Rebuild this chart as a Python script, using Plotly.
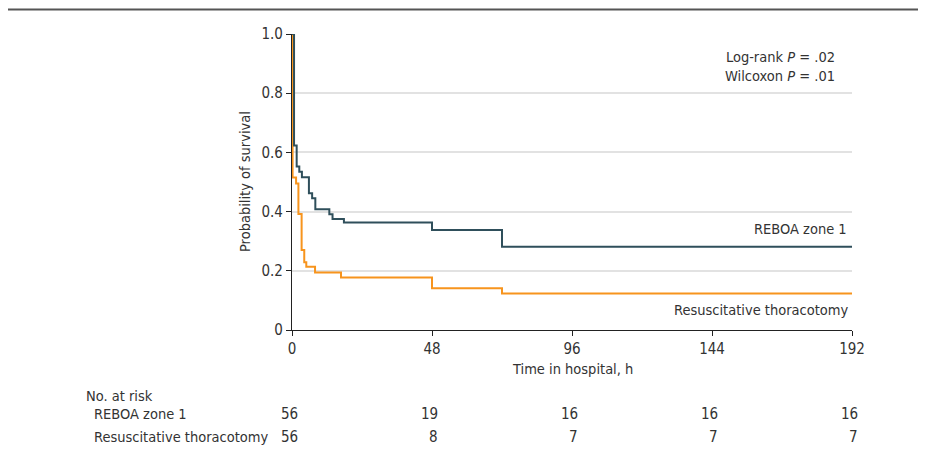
import plotly.graph_objects as go

# Data
reboa_time = [0, 0.7, 1.6, 2.5, 3.4, 5.8, 6.9, 8.0, 12.8, 13.9, 17.8, 48, 72, 192]
reboa_surv = [1.0, 0.623, 0.552, 0.535, 0.516, 0.462, 0.445, 0.408, 0.391, 0.375, 0.363, 0.338, 0.281, 0.281]
rt_time = [0, 0.2, 1.4, 2.2, 3.3, 4.2, 4.9, 7.9, 16.8, 48, 72, 192]
rt_surv = [1.0, 0.515, 0.495, 0.392, 0.270, 0.229, 0.214, 0.194, 0.177, 0.141, 0.123, 0.123]

x_ticks = [0, 48, 96, 144, 192]
y_ticks = [0, 0.2, 0.4, 0.6, 0.8, 1.0]
y_ticktext = ["0", "0.2", "0.4", "0.6", "0.8", "1.0"]
risk_groups = ["REBOA zone 1", "Resuscitative thoracotomy"]
risk_reboa = [56, 19, 16, 16, 16]
risk_rt = [56, 8, 7, 7, 7]

TEAL = "#2f4f5b"
ORANGE = "#f7941d"
TXT = "#333333"
FONT = "DejaVu Sans Condensed, Roboto, sans-serif"
FS = 14.5

# page body has an 8px margin; plot area in window px: x 292..852, y 34..330
OFF = 8
L, R, T, B = 292, 852, 34, 330
W, H = 926 - OFF, 462 - OFF

def px(x):
    return (x - L) / (R - L)

def py(y):
    return (B - y) / (B - T)

fig = go.Figure()
fig.add_trace(go.Scatter(x=rt_time, y=rt_surv, mode="lines", line=dict(shape="hv", color=ORANGE, width=2),
                         cliponaxis=False, showlegend=False, hoverinfo="skip"))
fig.add_trace(go.Scatter(x=reboa_time, y=reboa_surv, mode="lines", line=dict(shape="hv", color=TEAL, width=2),
                         cliponaxis=False, showlegend=False, hoverinfo="skip"))

fig.update_layout(
    width=W, height=H,
    margin=dict(l=L - OFF, r=W - (R - OFF), t=T - OFF, b=H - (B - OFF), pad=0),
    paper_bgcolor="white", plot_bgcolor="white",
    font=dict(family=FONT, size=FS, color=TXT),
    xaxis=dict(range=[0, 192], tickvals=x_ticks, ticks="outside", ticklen=5, tickcolor="#222",
               showline=True, linecolor="#222", linewidth=1.3, showgrid=False, zeroline=False,
               tickfont=dict(size=15, color=TXT)),
    yaxis=dict(range=[0, 1], tickvals=y_ticks, ticktext=y_ticktext, ticks="outside", ticklen=5, tickcolor="#222",
               showline=True, linecolor="#222", linewidth=1.3, showgrid=True, gridcolor="#e2e2e2", gridwidth=1.5,
               zeroline=False, tickfont=dict(size=15, color=TXT)),
)

ann = []
ann.append(dict(text="Time in hospital, h", x=96, y=py(369), xref="x", yref="paper", showarrow=False,
                xanchor="center", yanchor="middle"))
ann.append(dict(text="Probability of survival", x=px(245), y=0.5, xref="paper", yref="paper", showarrow=False,
                textangle=-90, xanchor="center", yanchor="middle"))
ann.append(dict(text="Log-rank <i>P</i> = .02<br>Wilcoxon <i>P</i> = .01", x=px(837), y=py(66),
                xref="paper", yref="paper", showarrow=False, align="right",
                xanchor="right", yanchor="middle"))
ann.append(dict(text="REBOA zone 1", x=px(849), y=py(229), xref="paper", yref="paper",
                showarrow=False, xanchor="right", yanchor="middle"))
ann.append(dict(text="Resuscitative thoracotomy", x=px(850), y=py(310), xref="paper", yref="paper",
                showarrow=False, xanchor="right", yanchor="middle"))
ann.append(dict(text="No. at risk", x=px(84), y=py(396), xref="paper", yref="paper",
                showarrow=False, xanchor="left", yanchor="middle"))
row_y = [py(414), py(437)]
for name, vals, ry in zip(risk_groups, [risk_reboa, risk_rt], row_y):
    ann.append(dict(text=name, x=px(92), y=ry, xref="paper", yref="paper",
                    showarrow=False, xanchor="left", yanchor="middle"))
    for t, v in zip(x_ticks, vals):
        ann.append(dict(text=str(v), x=t, y=ry, xref="x", yref="paper", xshift=8,
                        showarrow=False, xanchor="right", yanchor="middle", font=dict(size=15)))
fig.update_layout(annotations=ann)

# top rule (as high as the page allows)
fig.add_shape(type="line", xref="paper", yref="paper", x0=px(OFF), x1=px(926),
              y0=py(OFF + 1.5), y1=py(OFF + 1.5), line=dict(color="#555555", width=2))

fig.write_html("out.html")
